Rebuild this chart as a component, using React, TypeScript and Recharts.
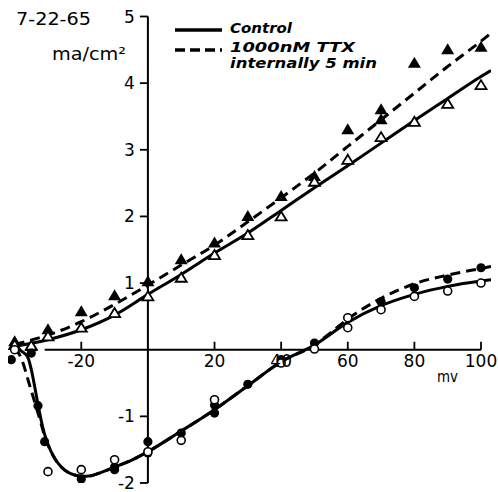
import React from 'react';
import {
  ComposedChart,
  Line,
  Scatter,
  XAxis,
  YAxis,
  ReferenceLine,
  ReferenceDot,
  Legend,
} from 'recharts';

// ---------- data (mV, mA/cm^2) ----------
// Control, late (outward) current - open triangles
const ctrlOutMv = [-40, -35, -30, -20, -10, 0, 10, 20, 30, 40, 50, 60, 70, 80, 90, 100];
const ctrlOutVal = [0.07, 0.06, 0.2, 0.33, 0.55, 0.8, 1.08, 1.42, 1.72, 2.0, 2.52, 2.85, 3.19, 3.42, 3.69, 3.97];
// TTX, late current - filled triangles
const ttxOutMv = [-40, -35, -30, -20, -10, 0, 10, 20, 30, 40, 50, 60, 70, 70, 80, 90, 100];
const ttxOutVal = [0.12, 0.05, 0.3, 0.57, 0.81, 1.02, 1.35, 1.6, 2.0, 2.3, 2.6, 3.3, 3.45, 3.6, 4.3, 4.5, 4.54];
// Control, early (peak) current - open circles
const ctrlInMv = [-40, -30, -20, -10, 0, 10, 20, 40, 50, 60, 60, 70, 80, 90, 100];
const ctrlInVal = [0.0, -1.83, -1.8, -1.65, -1.53, -1.36, -0.75, -0.2, 0.01, 0.48, 0.33, 0.6, 0.8, 0.88, 1.0];
// TTX, early current - filled circles
const ttxInMv = [-41, -35, -33, -31, -20, -10, -10, 0, 0, 10, 20, 20, 30, 40, 50, 70, 80, 90, 100];
const ttxInVal = [-0.15, -0.05, -0.84, -1.38, -1.94, -1.8, -1.76, -1.38, -1.55, -1.25, -0.83, -0.95, -0.52, -0.15, 0.1, 0.72, 0.93, 1.06, 1.23];

// fitted curves
const ctrlOutFitMv = [-40, -30, -20, -10, 0, 10, 20, 30, 40, 50, 60, 70, 80, 90, 100, 103];
const ctrlOutFitVal = [0.05, 0.15, 0.3, 0.52, 0.83, 1.13, 1.45, 1.75, 2.09, 2.43, 2.76, 3.1, 3.44, 3.77, 4.1, 4.19];
const ttxOutFitMv = [-40, -30, -20, -10, 0, 10, 20, 30, 40, 50, 60, 70, 80, 90, 100, 103];
const ttxOutFitVal = [0.08, 0.22, 0.42, 0.68, 0.97, 1.27, 1.57, 1.92, 2.28, 2.65, 3.05, 3.45, 3.85, 4.25, 4.63, 4.75];
const ctrlInFitMv = [-40, -38, -36, -35, -34, -33, -32, -31, -30, -28, -26, -24, -22, -20, -17, -14, -10, -5, 0, 10, 20, 30, 40, 50, 60, 70, 80, 90, 100, 103];
const ctrlInFitVal = [0.03, -0.02, -0.12, -0.3, -0.55, -0.82, -1.07, -1.27, -1.42, -1.63, -1.76, -1.84, -1.88, -1.9, -1.89, -1.84, -1.76, -1.66, -1.53, -1.22, -0.9, -0.54, -0.18, 0.07, 0.41, 0.66, 0.83, 0.95, 1.03, 1.05];
const ttxInFitMv = [-40, -38.5, -37.5, -36, -34.5, -33, -32, -31, -30, -28, -26, -24, -22, -20, -17, -14, -10, -5, 0, 10, 20, 30, 40, 50, 55, 60, 70, 80, 90, 100, 103];
const ttxInFitVal = [0.02, -0.08, -0.2, -0.45, -0.7, -0.95, -1.12, -1.3, -1.43, -1.63, -1.76, -1.84, -1.88, -1.9, -1.89, -1.84, -1.76, -1.66, -1.53, -1.22, -0.9, -0.54, -0.18, 0.07, 0.26, 0.46, 0.77, 0.99, 1.12, 1.22, 1.25];

// axes
const xTicks = [-20, 20, 40, 60, 80, 100];
const xTickLabels = ['-20', '20', '40', '60', '80', '100'];
const yTicks = [-2, -1, 1, 2, 3, 4, 5];
const yTickLabels = ['-2', '-1', '1', '2', '3', '4', '5'];
const xDomain: [number, number] = [-42, 103];
const yDomain: [number, number] = [-2, 5];
const xAxisStart = -31;
const xAxisEnd = 100;

const W = 498;
const H = 492;
const FONT = '"DejaVu Sans", "Liberation Sans", sans-serif';

const pts = (xs: number[], ys: number[]) => xs.map((x, i) => ({ x, y: ys[i] }));

const OpenTri = (p: any) => {
  const { cx, cy } = p;
  if (cx == null || cy == null) return null;
  return (
    <polygon
      points={`${cx},${cy - 5} ${cx + 5.5},${cy + 4} ${cx - 5.5},${cy + 4}`}
      fill="#fff"
      stroke="#000"
      strokeWidth={1.8}
      strokeLinejoin="miter"
    />
  );
};
const FillTri = (p: any) => {
  const { cx, cy } = p;
  if (cx == null || cy == null) return null;
  return <polygon points={`${cx},${cy - 6.5} ${cx + 6.5},${cy + 4.5} ${cx - 6.5},${cy + 4.5}`} fill="#000" />;
};
const OpenCirc = (p: any) => {
  const { cx, cy } = p;
  if (cx == null || cy == null) return null;
  return <circle cx={cx} cy={cy} r={4} fill="#fff" stroke="#000" strokeWidth={1.6} />;
};
const FillCirc = (p: any) => {
  const { cx, cy } = p;
  if (cx == null || cy == null) return null;
  return <circle cx={cx} cy={cy} r={4.6} fill="#000" />;
};

const legendText = { fontFamily: FONT, fontStyle: 'italic', fontWeight: 'bold' } as const;

const LegendBox = () => (
  <svg width={W} height={80} style={{ display: 'block', pointerEvents: 'none' }}>
    <line x1={175} y1={30} x2={222} y2={30} stroke="#000" strokeWidth={3.5} />
    <line x1={175} y1={50} x2={222} y2={50} stroke="#000" strokeWidth={3.5} strokeDasharray="10 5" />
    <text x={230} y={33} {...legendText} fontSize={14.5} textLength={62} lengthAdjust="spacingAndGlyphs">
      Control
    </text>
    <text x={230} y={52} {...legendText} fontSize={13.5} textLength={125} lengthAdjust="spacingAndGlyphs">
      1000nM TTX
    </text>
    <text x={230} y={68} {...legendText} fontSize={13.5} textLength={147} lengthAdjust="spacingAndGlyphs">
      internally 5 min
    </text>
  </svg>
);

export default function App() {
  const lineProps = {
    stroke: '#000',
    strokeWidth: 3,
    dot: false,
    activeDot: false,
    isAnimationActive: false,
    type: 'monotone' as const,
    dataKey: 'y',
    legendType: 'none' as const,
  };
  const labelStyle = { fill: '#000', fontSize: 17, fontFamily: FONT };
  return (
    <div style={{ position: 'absolute', left: 0, top: 0, width: W, height: H, background: '#fff' }}>
      <ComposedChart width={W} height={H} margin={{ top: 16.5, right: 7, bottom: 9, left: 8 }}>
        <XAxis type="number" dataKey="x" domain={xDomain} allowDataOverflow hide />
        <YAxis type="number" dataKey="y" domain={yDomain} allowDataOverflow hide />

        {/* axes drawn through the origin */}
        <ReferenceLine
          segment={[{ x: xAxisStart, y: 0 }, { x: xAxisEnd, y: 0 }]}
          stroke="#000"
          strokeWidth={2}
        />
        <ReferenceLine
          segment={[{ x: 0, y: yDomain[0] }, { x: 0, y: yDomain[1] }]}
          stroke="#000"
          strokeWidth={2}
        />
        {xTicks.map((t) => (
          <ReferenceLine key={'xt' + t} segment={[{ x: t, y: 0 }, { x: t, y: 0.12 }]} stroke="#000" strokeWidth={1.8} />
        ))}
        {yTicks.map((t) => (
          <ReferenceLine key={'yt' + t} segment={[{ x: -2.4, y: t }, { x: 0, y: t }]} stroke="#000" strokeWidth={1.8} />
        ))}
        {xTicks.map((t, i) => (
          <ReferenceDot
            key={'xl' + t}
            x={t}
            y={0}
            r={0}
            fill="none"
            stroke="none"
            label={{ value: xTickLabels[i], position: 'bottom', offset: 5, ...labelStyle }}
          />
        ))}
        {yTicks.map((t, i) => (
          <ReferenceDot
            key={'yl' + t}
            x={0}
            y={t}
            r={0}
            fill="none"
            stroke="none"
            label={{ value: yTickLabels[i], position: 'left', offset: 13, ...labelStyle }}
          />
        ))}

        <Line {...lineProps} data={pts(ctrlOutFitMv, ctrlOutFitVal)} name="ctrlOutFit" />
        <Line {...lineProps} data={pts(ttxOutFitMv, ttxOutFitVal)} name="ttxOutFit" strokeDasharray="10 6" />
        <Line {...lineProps} data={pts(ctrlInFitMv, ctrlInFitVal)} name="ctrlInFit" />
        <Line {...lineProps} data={pts(ttxInFitMv, ttxInFitVal)} name="ttxInFit" strokeDasharray="10 6" />

        <Scatter data={pts(ttxOutMv, ttxOutVal)} dataKey="y" shape={FillTri} isAnimationActive={false} legendType="none" />
        <Scatter data={pts(ctrlOutMv, ctrlOutVal)} dataKey="y" shape={OpenTri} isAnimationActive={false} legendType="none" />
        <Scatter data={pts(ttxInMv, ttxInVal)} dataKey="y" shape={FillCirc} isAnimationActive={false} legendType="none" />
        <Scatter data={pts(ctrlInMv, ctrlInVal)} dataKey="y" shape={OpenCirc} isAnimationActive={false} legendType="none" />

        <Legend
          layout="horizontal"
          verticalAlign="middle"
          align="center"
          wrapperStyle={{ left: 0, top: 0, width: W, height: 80 }}
          content={() => <LegendBox />}
        />
      </ComposedChart>
      <svg width={W} height={H} style={{ position: 'absolute', left: 0, top: 0, pointerEvents: 'none' }}>
        <text x={16} y={25} fontFamily={FONT} fontSize={17} textLength={75} lengthAdjust="spacingAndGlyphs">
          7-22-65
        </text>
        <text x={52} y={60} fontFamily={FONT} fontSize={17} textLength={74} lengthAdjust="spacingAndGlyphs">
          ma/cm²
        </text>
        <text x={437} y={382} fontFamily={FONT} fontSize={16} textLength={21} lengthAdjust="spacingAndGlyphs">
          mv
        </text>
      </svg>
    </div>
  );
}
